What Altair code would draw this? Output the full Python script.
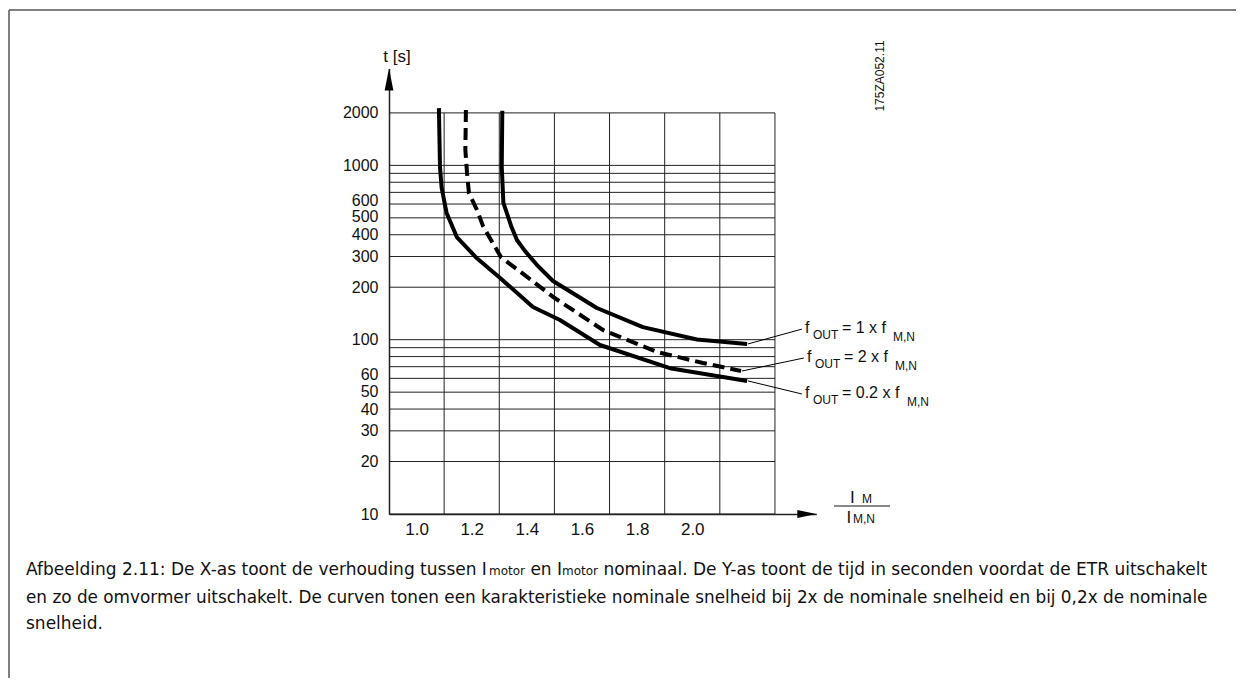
import altair as alt
import pandas as pd

# ---------------- data ----------------
x_labels = [1.0, 1.2, 1.4, 1.6, 1.8, 2.0]
y_labels = [10, 20, 30, 40, 50, 60, 100, 200, 300, 400, 500, 600, 1000, 2000]
x_grid = [1.1, 1.3, 1.5, 1.7, 1.9, 2.1, 2.3]
y_grid = [10, 20, 30, 40, 50, 60, 70, 80, 90, 100, 200, 300, 400, 500, 600, 700, 800, 900, 1000, 2000]

# f_OUT = 0.2 x f_M,N (solid, lower)
i_02 = [1.081, 1.085, 1.091, 1.109, 1.146, 1.218, 1.303, 1.422, 1.520, 1.665, 1.919, 2.199]
t_02 = [2130, 979, 742, 533, 388, 294, 226, 154, 129.8, 93.2, 68.6, 58.0]
# f_OUT = 1 x f_M,N (solid, upper)
i_1 = [1.311, 1.309, 1.315, 1.343, 1.364, 1.393, 1.437, 1.495, 1.654, 1.821, 2.017, 2.199]
t_1 = [2060, 979, 609, 449, 373, 323, 268, 217, 152, 118, 100.3, 94.5]
# f_OUT = 2 x f_M,N (dashed)
i_2 = [1.179, 1.177, 1.183, 1.190, 1.219, 1.241, 1.270, 1.306, 1.401, 1.495, 1.676, 1.872, 2.039, 2.177]
t_2 = [2080, 1225, 904, 695, 555, 449, 373, 298, 229, 176, 113.7, 85.0, 73.5, 66.1]

# annotation labels: leader line start (curve end) and end
lab_mult = ["1", "2", "0.2"]
lead_i0 = [2.202, 2.180, 2.202]
lead_t0 = [94.5, 66.1, 58.0]
lead_i1 = [2.398, 2.405, 2.398]
lead_t1 = [115, 78.5, 48.8]

x_domain = [0.9, 2.45]
y_domain = [10, 3600]

# ---------------- tables ----------------
rows = []
for name, I, T in [("0.2", i_02, t_02), ("1", i_1, t_1), ("2", i_2, t_2)]:
    for k, (a, b) in enumerate(zip(I, T)):
        rows.append({"curve": name, "I": a, "t": b, "k": k})
curve_df = pd.DataFrame(rows)

hgrid_df = pd.DataFrame({"t": y_grid, "x0": [x_domain[0]] * len(y_grid), "x1": [x_grid[-1]] * len(y_grid)})
vgrid_df = pd.DataFrame({"I": x_grid, "t0": [y_grid[0]] * len(x_grid), "t1": [y_grid[-1]] * len(x_grid)})
lead_df = pd.DataFrame({"m": lab_mult, "i0": lead_i0, "t0": lead_t0, "i1": lead_i1, "t1": lead_t1})

xs = alt.Scale(domain=x_domain, nice=False, zero=False)
ys = alt.Scale(type="log", domain=y_domain, nice=False)

FONT = "Liberation Sans"
CAP = "DejaVu Sans"

xaxis = alt.Axis(values=x_labels, format=".1f", title=None, ticks=False, grid=False,
                 labelFont=FONT, labelFontSize=17, labelColor="#111", labelPadding=7,
                 labelFlush=False, labelOverlap=False, domainColor="#222", domainWidth=1.5)
yaxis = alt.Axis(values=y_labels, format="d", title=None, ticks=False, grid=False,
                 labelFont=FONT, labelFontSize=16, labelColor="#111", labelPadding=11,
                 labelFlush=False, labelOverlap=False, domainColor="#222", domainWidth=1.5,
                 labelOffset={"condition": [
                     {"test": "datum.value == 600 || datum.value == 60", "value": -3.5},
                     {"test": "datum.value == 500 || datum.value == 50", "value": -1}],
                     "value": 0})


def X(field):
    return alt.X(field, scale=xs, axis=xaxis)


def Y(field):
    return alt.Y(field, scale=ys, axis=yaxis)


grid_h = alt.Chart(hgrid_df).mark_rule(color="#222", strokeWidth=1).encode(
    x=X("x0:Q"), x2="x1:Q", y=Y("t:Q"))
grid_v = alt.Chart(vgrid_df).mark_rule(color="#222", strokeWidth=1).encode(
    x=X("I:Q"), y=Y("t0:Q"), y2="t1:Q")

solid = alt.Chart(curve_df).transform_filter("datum.curve != '2'").mark_line(
    color="black", strokeWidth=4, strokeCap="butt", strokeJoin="round").encode(
    x=X("I:Q"), y=Y("t:Q"), detail="curve:N", order="k:Q")
dashed = alt.Chart(curve_df).transform_filter("datum.curve == '2'").mark_line(
    color="black", strokeWidth=4, strokeCap="butt", strokeDash=[12, 6]).encode(
    x=X("I:Q"), y=Y("t:Q"), order="k:Q")

leaders = alt.Chart(lead_df).mark_rule(color="black", strokeWidth=1).encode(
    x=X("i0:Q"), x2="i1:Q", y=Y("t0:Q"), y2="t1:Q")

# arrows at axis ends
arrow_df = pd.DataFrame({"I": [x_domain[0], x_domain[1]], "t": [y_domain[1], y_domain[0]],
                         "d": ["up", "right"]})
arrow_up = alt.Chart(arrow_df).transform_filter("datum.d == 'up'").mark_point(
    shape="M0,0L0.2,1L-0.2,1Z", size=1936, filled=True, color="black", opacity=1,
    strokeWidth=0).encode(x=X("I:Q"), y=Y("t:Q"))
arrow_right = alt.Chart(arrow_df).transform_filter("datum.d == 'right'").mark_point(
    shape="M0,0L-1,-0.21L-1,0.21Z", size=1444, filled=True, color="black", opacity=1,
    strokeWidth=0).encode(x=X("I:Q"), y=Y("t:Q"))


# annotation texts, anchored at leader ends
def seg(idx, text, dx, dy, size):
    d = lead_df.iloc[[idx]].assign(s=text)
    return alt.Chart(d).mark_text(align="left", baseline="alphabetic", dx=dx, dy=dy,
                                  font=FONT, fontSize=size, color="#111").encode(
        x=X("i1:Q"), y=Y("t1:Q"), text="s:N")


ann = []
for idx, m in enumerate(lab_mult):
    main = "= " + m + " x f"
    mn_dx = 91 if len(m) == 1 else 105
    ann += [seg(idx, "f", 3, 4, 16), seg(idx, "OUT", 11, 10, 12),
            seg(idx, main, 40, 4, 16), seg(idx, "M,N", mn_dx, 12, 12)]


def vtext(text, x, y, size, font=FONT, align="left", baseline="alphabetic", angle=0, color="#111"):
    d = pd.DataFrame({"s": [text]})
    return alt.Chart(d).mark_text(align=align, baseline=baseline, font=font, fontSize=size,
                                  angle=angle, color=color).encode(
        x=alt.value(x), y=alt.value(y), text="s:N")


# (plot origin is at page x=389, y=68.4)
extras = [
    vtext("t [s]", 8, -11, 17, align="center", baseline="middle"),
    vtext("175ZA052.11", 491, 7.6, 12, align="center", baseline="middle", angle=270),
    vtext("I", 461, 435, 17), vtext("M", 473, 435, 12),
    vtext("I", 457.5, 455, 17), vtext("M,N", 464, 455, 12),
]
frac_bar = alt.Chart(pd.DataFrame({"a": [0]})).mark_rule(color="#111", strokeWidth=1).encode(
    x=alt.value(445), x2=alt.value(501), y=alt.value(437.6))

frame_top = alt.Chart(pd.DataFrame({"a": [0]})).mark_rule(color="#555", strokeWidth=1.5).encode(
    x=alt.value(-380), x2=alt.value(900), y=alt.value(-58.4))
frame_left = alt.Chart(pd.DataFrame({"a": [0]})).mark_rule(color="#555", strokeWidth=1.5).encode(
    x=alt.value(-380), y=alt.value(-58.4), y2=alt.value(700))

CS = 17
caption = [
    vtext("Afbeelding 2.11: De X-as toont de verhouding tussen I", -363, 506.6, CS, font=CAP),
    vtext("motor", 100, 506.6, 12, font=CAP),
    vtext("en I", 141.4, 506.6, CS, font=CAP),
    vtext("motor", 173, 506.6, 12, font=CAP),
    vtext("nominaal. De Y-as toont de tijd in seconden voordat de ETR uitschakelt", 214.4, 506.6, CS, font=CAP),
    vtext("en zo de omvormer uitschakelt. De curven tonen een karakteristieke nominale snelheid bij 2x de nominale snelheid en bij 0,2x de nominale",
          -363, 534.6, 16.85, font=CAP),
    vtext("snelheid.", -363, 560.6, CS, font=CAP),
]

chart = alt.layer(
    grid_h, grid_v, solid, dashed, leaders, arrow_up, arrow_right, *ann, *extras,
    frac_bar, frame_top, frame_left, *caption
).properties(
    width=427.3, height=445.6,
    autosize=alt.AutoSizeParams(type="none"),
    padding={"left": 381, "top": 60.4, "right": 419.7, "bottom": 164},
    background="white",
).configure_view(strokeWidth=0)

chart.save("out.html", embed_options={"renderer": "svg", "actions": False})
